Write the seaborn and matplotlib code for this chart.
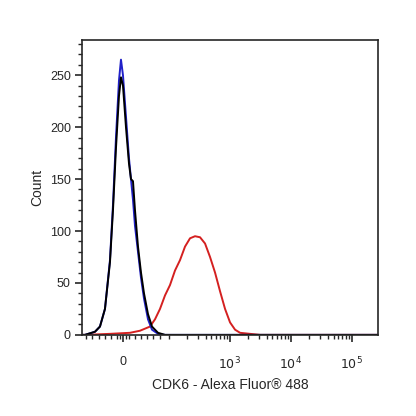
import numpy as np
import matplotlib
matplotlib.use("Agg")
import matplotlib.pyplot as plt
import seaborn as sns
import pandas as pd

sns.set_style("ticks")
plt.rcParams['font.family'] = ['Liberation Sans', 'DejaVu Sans']

# x positions in display (decade) units: 0 -> 0, 10^3 -> 1.75, 10^4 -> 2.77, 10^5 -> 3.77
black_px = [82, 85, 95, 100, 105, 110, 113, 116, 119, 121, 123, 126, 129, 131, 133, 135, 138, 141, 144, 148, 152, 158, 165, 378]
black_y = [0, 0, 3, 8, 25, 70, 120, 180, 230, 248, 240, 200, 165, 150, 148, 120, 85, 60, 40, 20, 8, 2, 0, 0]
blue_px = [82, 85, 95, 100, 105, 110, 113, 116, 119, 121, 123, 126, 129, 131, 133, 135, 138, 141, 144, 148, 152, 158, 165, 378]
blue_y = [0, 0, 3, 8, 25, 72, 125, 190, 245, 265, 250, 210, 170, 150, 130, 105, 80, 55, 35, 15, 5, 1, 0, 0]
red_px = [82, 85, 110, 130, 140, 150, 155, 160, 165, 170, 175, 180, 185, 190, 195, 200, 205, 210, 215, 220, 225, 230, 235, 240, 250, 260, 378]
red_y = [0, 0, 1, 2, 4, 8, 15, 25, 38, 48, 62, 72, 85, 93, 95, 94, 88, 75, 60, 42, 25, 12, 5, 2, 1, 0, 0]

def to_x(px):
    return [(p - 123) / 61 for p in px]

series = [
    (red_px, red_y, "#d42020"),
    (blue_px, blue_y, "#2020c8"),
    (black_px, black_y, "#000000"),
]

fig = plt.figure(figsize=(4.16, 4.16), dpi=100)
ax = fig.add_axes([0.197, 0.195, 0.712, 0.709])
for px, y, c in series:
    df = pd.DataFrame({"x": to_x(px), "y": y})
    sns.lineplot(data=df, x="x", y="y", color=c, lw=1.4, ax=ax, sort=False)

ax.set_xlim((82 - 123) / 61, (378 - 123) / 61)
ax.set_ylim(0, 284)
ax.set_yticks([0, 50, 100, 150, 200, 250])
ax.set_yticks(np.arange(0, 284, 10), minor=True)

def pos(v):
    return 1.75 + np.log10(v / 1000)

ax.set_xticks([0, pos(1e3), pos(1e4), pos(1e5)])
ax.set_xticklabels(["0", r"$10^3$", r"$10^4$", r"$10^5$"])
minor = [pos(m * 10 ** k) for k in (2, 3, 4) for m in range(2, 10)] + [pos(100)]
minor += [-0.6, -0.5, -0.4, -0.3, -0.2, -0.1, -0.05, 0.05, 0.1, 0.2, 0.3, 0.4, 0.5, 0.6]
ax.set_xticks(minor, minor=True)
ax.tick_params(axis="both", which="major", length=5, width=1.2, labelsize=9, pad=10)
ax.tick_params(axis="y", which="major", pad=3)
ax.tick_params(axis="both", which="minor", length=3, width=1)
for s in ax.spines.values():
    s.set_linewidth(1.2)
ax.set_xlabel("CDK6 - Alexa Fluor® 488", fontsize=10)
ax.set_ylabel("Count", fontsize=10)
fig.savefig("out.png", dpi=100)
